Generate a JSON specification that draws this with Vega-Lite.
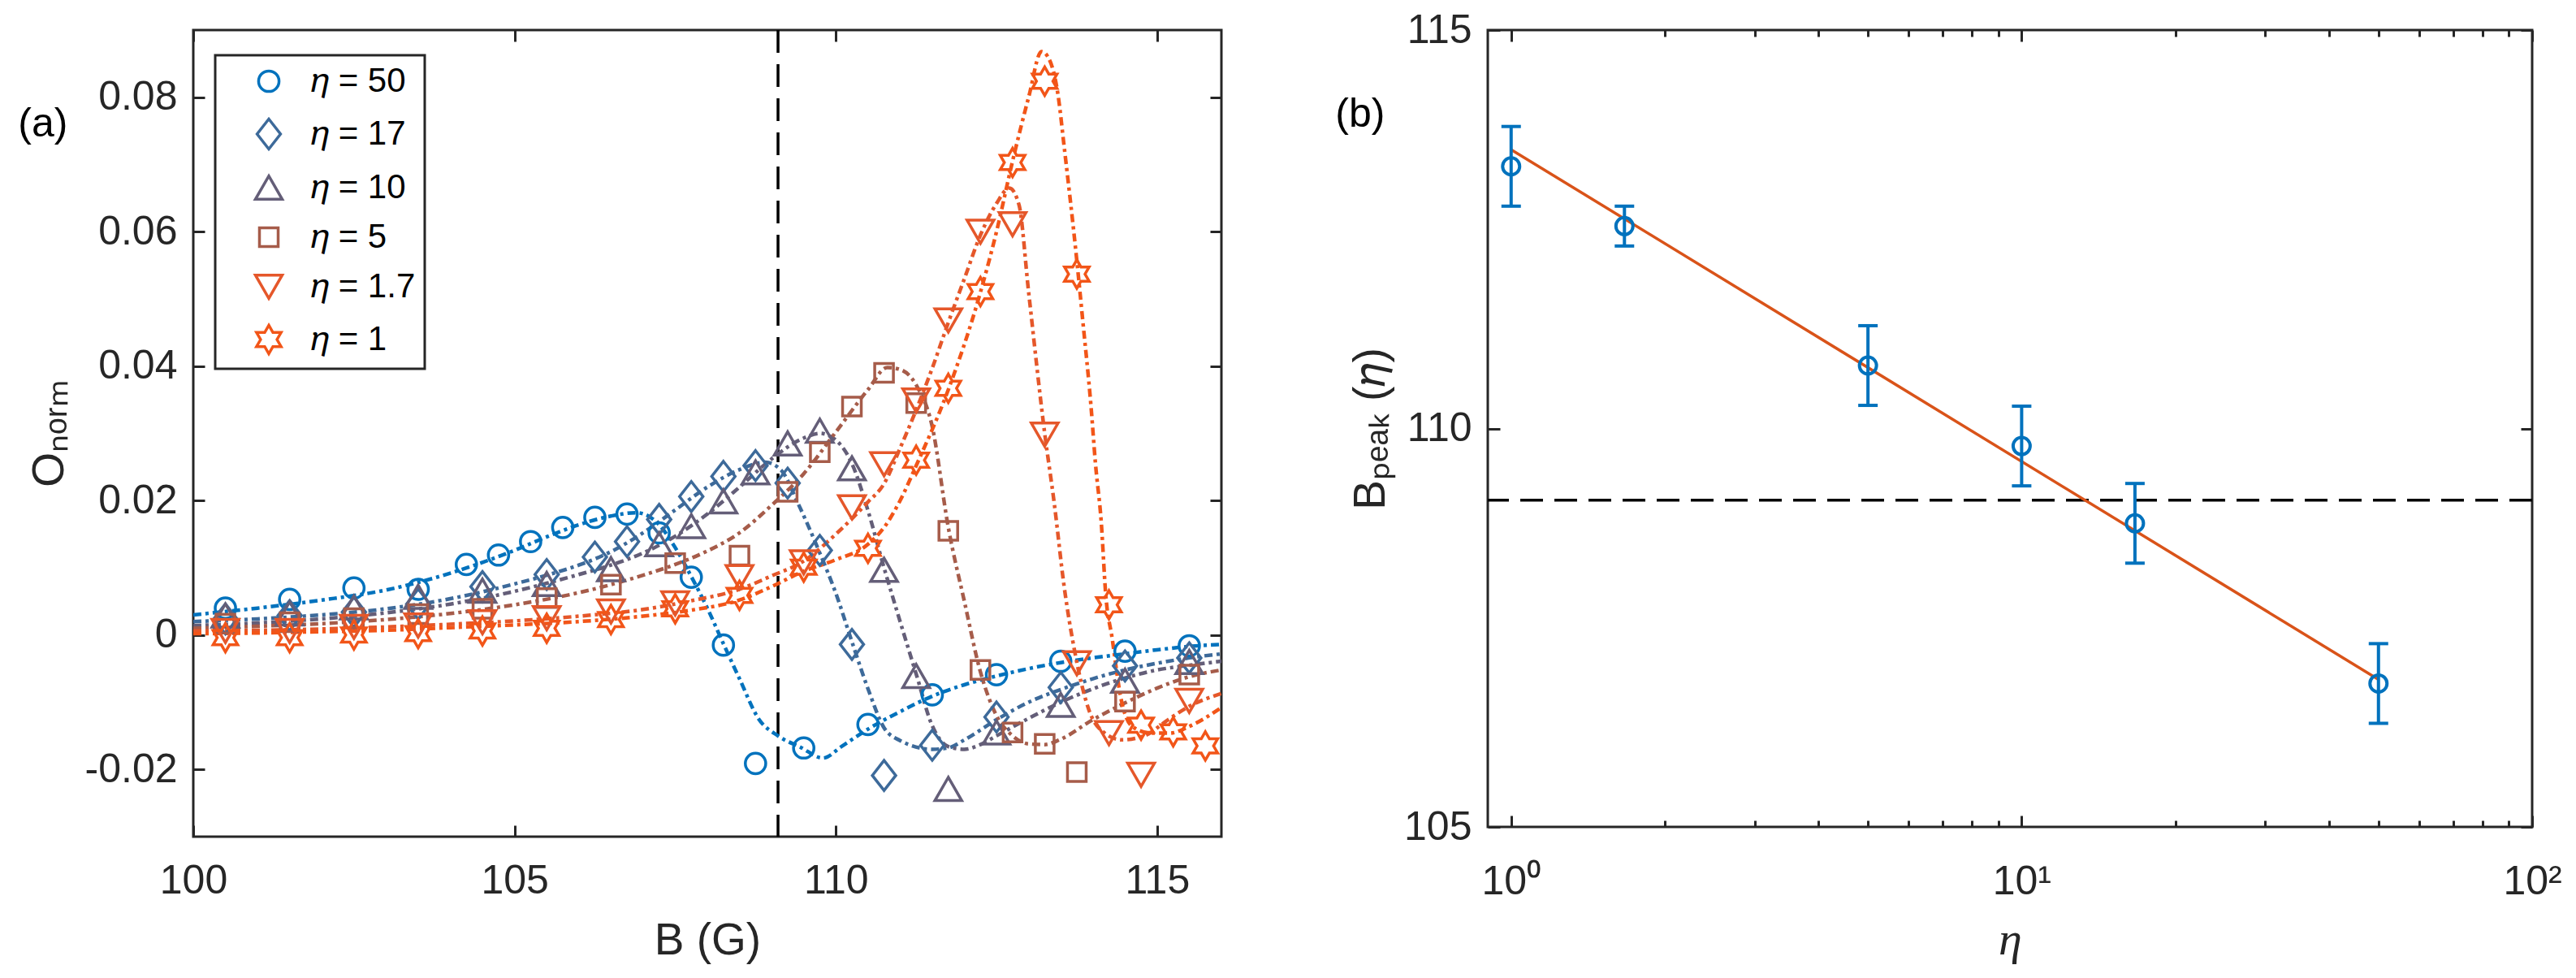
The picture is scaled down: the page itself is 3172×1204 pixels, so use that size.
{
  "$schema": "https://vega.github.io/schema/vega-lite/v6.json",
  "autosize": {"type": "none"},
  "padding": {"left": 238, "top": 37, "right": 2934, "bottom": 1167},
  "background": "white",
  "spacing": 328,
  "bounds": "flush",
  "resolve": {"scale": {"color": "independent", "shape": "independent", "stroke": "independent"}, "legend": {"color": "independent", "shape": "independent", "stroke": "independent"}},
  "config": {
    "font": "Liberation Sans",
    "view": {"stroke": "#262626", "strokeWidth": 3},
    "axis": {"domain": false, "grid": false, "tickColor": "#262626", "tickWidth": 3, "labelColor": "#262626", "labelFont": "Liberation Sans", "labelFontSize": 50, "labelFlush": false, "titleFont": "Liberation Sans", "titleFontSize": 55, "titleFontWeight": "normal", "titleColor": "#262626"},
    "legend": {"strokeWidth": 3, "symbolOffset": 34, "labelOffset": 31}
  },
  "datasets": {
    "m": [
      {"s": "η = 50", "B": 100.5, "O": 0.0040}, {"s": "η = 50", "B": 101.5, "O": 0.0053}, {"s": "η = 50", "B": 102.5, "O": 0.0070}, {"s": "η = 50", "B": 103.5, "O": 0.0068}, {"s": "η = 50", "B": 104.25, "O": 0.0105}, {"s": "η = 50", "B": 104.75, "O": 0.0119}, {"s": "η = 50", "B": 105.25, "O": 0.0139}, {"s": "η = 50", "B": 105.75, "O": 0.0160}, {"s": "η = 50", "B": 106.25, "O": 0.0175}, {"s": "η = 50", "B": 106.75, "O": 0.0180}, {"s": "η = 50", "B": 107.25, "O": 0.0152}, {"s": "η = 50", "B": 107.75, "O": 0.0086}, {"s": "η = 50", "B": 108.25, "O": -0.0015}, {"s": "η = 50", "B": 108.75, "O": -0.0191}, {"s": "η = 50", "B": 109.5, "O": -0.0168}, {"s": "η = 50", "B": 110.5, "O": -0.0133}, {"s": "η = 50", "B": 111.5, "O": -0.0089}, {"s": "η = 50", "B": 112.5, "O": -0.0059}, {"s": "η = 50", "B": 113.5, "O": -0.0039}, {"s": "η = 50", "B": 114.5, "O": -0.0024}, {"s": "η = 50", "B": 115.5, "O": -0.0016},
      {"s": "η = 17", "B": 100.5, "O": 0.0024}, {"s": "η = 17", "B": 101.5, "O": 0.0029}, {"s": "η = 17", "B": 102.5, "O": 0.0034}, {"s": "η = 17", "B": 103.5, "O": 0.0046}, {"s": "η = 17", "B": 104.5, "O": 0.0072}, {"s": "η = 17", "B": 105.5, "O": 0.0090}, {"s": "η = 17", "B": 106.25, "O": 0.0116}, {"s": "η = 17", "B": 106.75, "O": 0.0139}, {"s": "η = 17", "B": 107.25, "O": 0.0172}, {"s": "η = 17", "B": 107.75, "O": 0.0206}, {"s": "η = 17", "B": 108.25, "O": 0.0236}, {"s": "η = 17", "B": 108.75, "O": 0.0252}, {"s": "η = 17", "B": 109.25, "O": 0.0226}, {"s": "η = 17", "B": 109.75, "O": 0.0126}, {"s": "η = 17", "B": 110.25, "O": -0.0014}, {"s": "η = 17", "B": 110.75, "O": -0.0209}, {"s": "η = 17", "B": 111.5, "O": -0.0164}, {"s": "η = 17", "B": 112.5, "O": -0.0122}, {"s": "η = 17", "B": 113.5, "O": -0.0078}, {"s": "η = 17", "B": 114.5, "O": -0.0046}, {"s": "η = 17", "B": 115.5, "O": -0.0034},
      {"s": "η = 10", "B": 100.5, "O": 0.0029}, {"s": "η = 10", "B": 101.5, "O": 0.0032}, {"s": "η = 10", "B": 102.5, "O": 0.0041}, {"s": "η = 10", "B": 103.5, "O": 0.0057}, {"s": "η = 10", "B": 104.5, "O": 0.0066}, {"s": "η = 10", "B": 105.5, "O": 0.0076}, {"s": "η = 10", "B": 106.5, "O": 0.0098}, {"s": "η = 10", "B": 107.25, "O": 0.0135}, {"s": "η = 10", "B": 107.75, "O": 0.0162}, {"s": "η = 10", "B": 108.25, "O": 0.0199}, {"s": "η = 10", "B": 108.75, "O": 0.0242}, {"s": "η = 10", "B": 109.25, "O": 0.0285}, {"s": "η = 10", "B": 109.75, "O": 0.0304}, {"s": "η = 10", "B": 110.25, "O": 0.0248}, {"s": "η = 10", "B": 110.75, "O": 0.0097}, {"s": "η = 10", "B": 111.25, "O": -0.0061}, {"s": "η = 10", "B": 111.75, "O": -0.0229}, {"s": "η = 10", "B": 112.5, "O": -0.0145}, {"s": "η = 10", "B": 113.5, "O": -0.0104}, {"s": "η = 10", "B": 114.5, "O": -0.0068}, {"s": "η = 10", "B": 115.5, "O": -0.0040},
      {"s": "η = 5", "B": 100.5, "O": 0.0017}, {"s": "η = 5", "B": 101.5, "O": 0.0019}, {"s": "η = 5", "B": 102.5, "O": 0.0025}, {"s": "η = 5", "B": 103.5, "O": 0.0031}, {"s": "η = 5", "B": 104.5, "O": 0.0039}, {"s": "η = 5", "B": 105.5, "O": 0.0055}, {"s": "η = 5", "B": 106.5, "O": 0.0075}, {"s": "η = 5", "B": 107.5, "O": 0.0107}, {"s": "η = 5", "B": 108.5, "O": 0.0118}, {"s": "η = 5", "B": 109.25, "O": 0.0213}, {"s": "η = 5", "B": 109.75, "O": 0.0272}, {"s": "η = 5", "B": 110.25, "O": 0.0340}, {"s": "η = 5", "B": 110.75, "O": 0.0390}, {"s": "η = 5", "B": 111.25, "O": 0.0345}, {"s": "η = 5", "B": 111.75, "O": 0.0155}, {"s": "η = 5", "B": 112.25, "O": -0.0052}, {"s": "η = 5", "B": 112.75, "O": -0.0145}, {"s": "η = 5", "B": 113.25, "O": -0.0162}, {"s": "η = 5", "B": 113.75, "O": -0.0204}, {"s": "η = 5", "B": 114.5, "O": -0.0099}, {"s": "η = 5", "B": 115.5, "O": -0.0059},
      {"s": "η = 1.7", "B": 100.5, "O": 0.0006}, {"s": "η = 1.7", "B": 101.5, "O": 0.0006}, {"s": "η = 1.7", "B": 102.5, "O": 0.0012}, {"s": "η = 1.7", "B": 103.5, "O": 0.0014}, {"s": "η = 1.7", "B": 104.5, "O": 0.0019}, {"s": "η = 1.7", "B": 105.5, "O": 0.0025}, {"s": "η = 1.7", "B": 106.5, "O": 0.0035}, {"s": "η = 1.7", "B": 107.5, "O": 0.0047}, {"s": "η = 1.7", "B": 108.5, "O": 0.0086}, {"s": "η = 1.7", "B": 109.5, "O": 0.0108}, {"s": "η = 1.7", "B": 110.25, "O": 0.0190}, {"s": "η = 1.7", "B": 110.75, "O": 0.0254}, {"s": "η = 1.7", "B": 111.25, "O": 0.0349}, {"s": "η = 1.7", "B": 111.75, "O": 0.0468}, {"s": "η = 1.7", "B": 112.25, "O": 0.0600}, {"s": "η = 1.7", "B": 112.75, "O": 0.0611}, {"s": "η = 1.7", "B": 113.25, "O": 0.0298}, {"s": "η = 1.7", "B": 113.75, "O": -0.0042}, {"s": "η = 1.7", "B": 114.25, "O": -0.0146}, {"s": "η = 1.7", "B": 114.75, "O": -0.0208}, {"s": "η = 1.7", "B": 115.5, "O": -0.0098},
      {"s": "η = 1", "B": 100.5, "O": -0.0004}, {"s": "η = 1", "B": 101.5, "O": -0.0004}, {"s": "η = 1", "B": 102.5, "O": 0.0000}, {"s": "η = 1", "B": 103.5, "O": 0.0002}, {"s": "η = 1", "B": 104.5, "O": 0.0006}, {"s": "η = 1", "B": 105.5, "O": 0.0010}, {"s": "η = 1", "B": 106.5, "O": 0.0023}, {"s": "η = 1", "B": 107.5, "O": 0.0039}, {"s": "η = 1", "B": 108.5, "O": 0.0059}, {"s": "η = 1", "B": 109.5, "O": 0.0101}, {"s": "η = 1", "B": 110.5, "O": 0.0129}, {"s": "η = 1", "B": 111.25, "O": 0.0260}, {"s": "η = 1", "B": 111.75, "O": 0.0367}, {"s": "η = 1", "B": 112.25, "O": 0.0511}, {"s": "η = 1", "B": 112.75, "O": 0.0703}, {"s": "η = 1", "B": 113.25, "O": 0.0824}, {"s": "η = 1", "B": 113.75, "O": 0.0537}, {"s": "η = 1", "B": 114.25, "O": 0.0045}, {"s": "η = 1", "B": 114.75, "O": -0.0134}, {"s": "η = 1", "B": 115.25, "O": -0.0144}, {"s": "η = 1", "B": 115.75, "O": -0.0165}
    ],
    "c": [
      {"s": "η = 50", "B": 100, "O": 0.0030}, {"s": "η = 50", "B": 101, "O": 0.0040}, {"s": "η = 50", "B": 102, "O": 0.0052}, {"s": "η = 50", "B": 103, "O": 0.0067}, {"s": "η = 50", "B": 104, "O": 0.0092}, {"s": "η = 50", "B": 104.5, "O": 0.0108}, {"s": "η = 50", "B": 105, "O": 0.0126}, {"s": "η = 50", "B": 105.5, "O": 0.0146}, {"s": "η = 50", "B": 106, "O": 0.0164}, {"s": "η = 50", "B": 106.5, "O": 0.0177}, {"s": "η = 50", "B": 106.9, "O": 0.0182}, {"s": "η = 50", "B": 107.25, "O": 0.0164}, {"s": "η = 50", "B": 107.5, "O": 0.0130}, {"s": "η = 50", "B": 107.75, "O": 0.0087}, {"s": "η = 50", "B": 108, "O": 0.0040}, {"s": "η = 50", "B": 108.25, "O": -0.0013}, {"s": "η = 50", "B": 108.5, "O": -0.0065}, {"s": "η = 50", "B": 108.8, "O": -0.0125}, {"s": "η = 50", "B": 109.1, "O": -0.0150}, {"s": "η = 50", "B": 109.45, "O": -0.0167}, {"s": "η = 50", "B": 109.8, "O": -0.0183}, {"s": "η = 50", "B": 110.1, "O": -0.0165}, {"s": "η = 50", "B": 110.5, "O": -0.0140}, {"s": "η = 50", "B": 111, "O": -0.0114}, {"s": "η = 50", "B": 111.5, "O": -0.0091}, {"s": "η = 50", "B": 112, "O": -0.0074}, {"s": "η = 50", "B": 112.5, "O": -0.0061}, {"s": "η = 50", "B": 113, "O": -0.0050}, {"s": "η = 50", "B": 113.5, "O": -0.0041}, {"s": "η = 50", "B": 114, "O": -0.0034}, {"s": "η = 50", "B": 114.5, "O": -0.0028}, {"s": "η = 50", "B": 115, "O": -0.0022}, {"s": "η = 50", "B": 115.5, "O": -0.0017}, {"s": "η = 50", "B": 116, "O": -0.0014},
      {"s": "η = 17", "B": 100, "O": 0.0020}, {"s": "η = 17", "B": 101, "O": 0.0024}, {"s": "η = 17", "B": 102, "O": 0.0030}, {"s": "η = 17", "B": 103, "O": 0.0039}, {"s": "η = 17", "B": 104, "O": 0.0054}, {"s": "η = 17", "B": 105, "O": 0.0076}, {"s": "η = 17", "B": 105.5, "O": 0.0089}, {"s": "η = 17", "B": 106, "O": 0.0104}, {"s": "η = 17", "B": 106.5, "O": 0.0124}, {"s": "η = 17", "B": 107, "O": 0.0152}, {"s": "η = 17", "B": 107.5, "O": 0.0186}, {"s": "η = 17", "B": 108, "O": 0.0220}, {"s": "η = 17", "B": 108.5, "O": 0.0246}, {"s": "η = 17", "B": 108.9, "O": 0.0257}, {"s": "η = 17", "B": 109.15, "O": 0.0245}, {"s": "η = 17", "B": 109.4, "O": 0.0198}, {"s": "η = 17", "B": 109.75, "O": 0.0122}, {"s": "η = 17", "B": 110, "O": 0.0062}, {"s": "η = 17", "B": 110.25, "O": -0.0010}, {"s": "η = 17", "B": 110.5, "O": -0.0080}, {"s": "η = 17", "B": 110.75, "O": -0.0138}, {"s": "η = 17", "B": 111, "O": -0.0157}, {"s": "η = 17", "B": 111.5, "O": -0.0170}, {"s": "η = 17", "B": 111.75, "O": -0.0168}, {"s": "η = 17", "B": 112, "O": -0.0156}, {"s": "η = 17", "B": 112.5, "O": -0.0126}, {"s": "η = 17", "B": 113, "O": -0.0100}, {"s": "η = 17", "B": 113.5, "O": -0.0081}, {"s": "η = 17", "B": 114, "O": -0.0065}, {"s": "η = 17", "B": 114.5, "O": -0.0052}, {"s": "η = 17", "B": 115, "O": -0.0042}, {"s": "η = 17", "B": 115.5, "O": -0.0034}, {"s": "η = 17", "B": 116, "O": -0.0028},
      {"s": "η = 10", "B": 100, "O": 0.0014}, {"s": "η = 10", "B": 101, "O": 0.0018}, {"s": "η = 10", "B": 102, "O": 0.0024}, {"s": "η = 10", "B": 103, "O": 0.0033}, {"s": "η = 10", "B": 104, "O": 0.0046}, {"s": "η = 10", "B": 105, "O": 0.0065}, {"s": "η = 10", "B": 105.5, "O": 0.0077}, {"s": "η = 10", "B": 106, "O": 0.0090}, {"s": "η = 10", "B": 106.5, "O": 0.0104}, {"s": "η = 10", "B": 107, "O": 0.0122}, {"s": "η = 10", "B": 107.5, "O": 0.0147}, {"s": "η = 10", "B": 108, "O": 0.0180}, {"s": "η = 10", "B": 108.5, "O": 0.0220}, {"s": "η = 10", "B": 109, "O": 0.0262}, {"s": "η = 10", "B": 109.5, "O": 0.0293}, {"s": "η = 10", "B": 109.75, "O": 0.0300}, {"s": "η = 10", "B": 110, "O": 0.0290}, {"s": "η = 10", "B": 110.25, "O": 0.0255}, {"s": "η = 10", "B": 110.5, "O": 0.0185}, {"s": "η = 10", "B": 110.75, "O": 0.0100}, {"s": "η = 10", "B": 111, "O": 0.0020}, {"s": "η = 10", "B": 111.25, "O": -0.0058}, {"s": "η = 10", "B": 111.5, "O": -0.0135}, {"s": "η = 10", "B": 111.75, "O": -0.0166}, {"s": "η = 10", "B": 112, "O": -0.0170}, {"s": "η = 10", "B": 112.25, "O": -0.0163}, {"s": "η = 10", "B": 112.5, "O": -0.0150}, {"s": "η = 10", "B": 113, "O": -0.0124}, {"s": "η = 10", "B": 113.5, "O": -0.0100}, {"s": "η = 10", "B": 114, "O": -0.0080}, {"s": "η = 10", "B": 114.5, "O": -0.0064}, {"s": "η = 10", "B": 115, "O": -0.0052}, {"s": "η = 10", "B": 115.5, "O": -0.0045}, {"s": "η = 10", "B": 116, "O": -0.0039},
      {"s": "η = 5", "B": 100, "O": 0.0010}, {"s": "η = 5", "B": 101, "O": 0.0013}, {"s": "η = 5", "B": 102, "O": 0.0017}, {"s": "η = 5", "B": 103, "O": 0.0023}, {"s": "η = 5", "B": 104, "O": 0.0032}, {"s": "η = 5", "B": 105, "O": 0.0045}, {"s": "η = 5", "B": 106, "O": 0.0063}, {"s": "η = 5", "B": 106.5, "O": 0.0075}, {"s": "η = 5", "B": 107, "O": 0.0089}, {"s": "η = 5", "B": 107.5, "O": 0.0105}, {"s": "η = 5", "B": 108, "O": 0.0125}, {"s": "η = 5", "B": 108.5, "O": 0.0152}, {"s": "η = 5", "B": 109, "O": 0.0193}, {"s": "η = 5", "B": 109.5, "O": 0.0240}, {"s": "η = 5", "B": 110, "O": 0.0302}, {"s": "η = 5", "B": 110.5, "O": 0.0365}, {"s": "η = 5", "B": 110.8, "O": 0.0398}, {"s": "η = 5", "B": 111, "O": 0.0395}, {"s": "η = 5", "B": 111.25, "O": 0.0372}, {"s": "η = 5", "B": 111.5, "O": 0.0310}, {"s": "η = 5", "B": 111.75, "O": 0.0160}, {"s": "η = 5", "B": 112, "O": 0.0050}, {"s": "η = 5", "B": 112.25, "O": -0.0055}, {"s": "η = 5", "B": 112.5, "O": -0.0120}, {"s": "η = 5", "B": 112.75, "O": -0.0150}, {"s": "η = 5", "B": 113, "O": -0.0162}, {"s": "η = 5", "B": 113.25, "O": -0.0163}, {"s": "η = 5", "B": 113.5, "O": -0.0155}, {"s": "η = 5", "B": 114, "O": -0.0126}, {"s": "η = 5", "B": 114.5, "O": -0.0101}, {"s": "η = 5", "B": 115, "O": -0.0079}, {"s": "η = 5", "B": 115.5, "O": -0.0062}, {"s": "η = 5", "B": 116, "O": -0.0052},
      {"s": "η = 1.7", "B": 100, "O": 0.0006}, {"s": "η = 1.7", "B": 101, "O": 0.0007}, {"s": "η = 1.7", "B": 102, "O": 0.0009}, {"s": "η = 1.7", "B": 103, "O": 0.0012}, {"s": "η = 1.7", "B": 104, "O": 0.0016}, {"s": "η = 1.7", "B": 105, "O": 0.0021}, {"s": "η = 1.7", "B": 106, "O": 0.0028}, {"s": "η = 1.7", "B": 107, "O": 0.0038}, {"s": "η = 1.7", "B": 107.75, "O": 0.0051}, {"s": "η = 1.7", "B": 108.5, "O": 0.0068}, {"s": "η = 1.7", "B": 109, "O": 0.0088}, {"s": "η = 1.7", "B": 109.5, "O": 0.0110}, {"s": "η = 1.7", "B": 110, "O": 0.0150}, {"s": "η = 1.7", "B": 110.25, "O": 0.0173}, {"s": "η = 1.7", "B": 110.5, "O": 0.0198}, {"s": "η = 1.7", "B": 110.75, "O": 0.0225}, {"s": "η = 1.7", "B": 111, "O": 0.0278}, {"s": "η = 1.7", "B": 111.25, "O": 0.0335}, {"s": "η = 1.7", "B": 111.5, "O": 0.0397}, {"s": "η = 1.7", "B": 111.75, "O": 0.0465}, {"s": "η = 1.7", "B": 112, "O": 0.0530}, {"s": "η = 1.7", "B": 112.25, "O": 0.0595}, {"s": "η = 1.7", "B": 112.5, "O": 0.0642}, {"s": "η = 1.7", "B": 112.7, "O": 0.0665}, {"s": "η = 1.7", "B": 112.85, "O": 0.0640}, {"s": "η = 1.7", "B": 113, "O": 0.0510}, {"s": "η = 1.7", "B": 113.25, "O": 0.0300}, {"s": "η = 1.7", "B": 113.4, "O": 0.0195}, {"s": "η = 1.7", "B": 113.55, "O": 0.0074}, {"s": "η = 1.7", "B": 113.72, "O": -0.0026}, {"s": "η = 1.7", "B": 113.94, "O": -0.0112}, {"s": "η = 1.7", "B": 114.2, "O": -0.0147}, {"s": "η = 1.7", "B": 114.45, "O": -0.0156}, {"s": "η = 1.7", "B": 114.8, "O": -0.0150}, {"s": "η = 1.7", "B": 115.17, "O": -0.0126}, {"s": "η = 1.7", "B": 115.5, "O": -0.0106}, {"s": "η = 1.7", "B": 116, "O": -0.0087},
      {"s": "η = 1", "B": 100, "O": 0.0002}, {"s": "η = 1", "B": 101, "O": 0.0003}, {"s": "η = 1", "B": 102, "O": 0.0005}, {"s": "η = 1", "B": 103, "O": 0.0007}, {"s": "η = 1", "B": 104, "O": 0.0011}, {"s": "η = 1", "B": 105, "O": 0.0015}, {"s": "η = 1", "B": 106, "O": 0.0020}, {"s": "η = 1", "B": 107, "O": 0.0028}, {"s": "η = 1", "B": 107.75, "O": 0.0037}, {"s": "η = 1", "B": 108.5, "O": 0.0052}, {"s": "η = 1", "B": 109, "O": 0.0072}, {"s": "η = 1", "B": 109.5, "O": 0.0095}, {"s": "η = 1", "B": 110, "O": 0.0112}, {"s": "η = 1", "B": 110.5, "O": 0.0135}, {"s": "η = 1", "B": 110.75, "O": 0.0160}, {"s": "η = 1", "B": 111, "O": 0.0200}, {"s": "η = 1", "B": 111.25, "O": 0.0252}, {"s": "η = 1", "B": 111.75, "O": 0.0365}, {"s": "η = 1", "B": 112.25, "O": 0.0510}, {"s": "η = 1", "B": 112.5, "O": 0.0600}, {"s": "η = 1", "B": 112.75, "O": 0.0705}, {"s": "η = 1", "B": 113, "O": 0.0800}, {"s": "η = 1", "B": 113.2, "O": 0.0868}, {"s": "η = 1", "B": 113.3, "O": 0.0860}, {"s": "η = 1", "B": 113.46, "O": 0.0802}, {"s": "η = 1", "B": 113.55, "O": 0.0729}, {"s": "η = 1", "B": 113.75, "O": 0.0557}, {"s": "η = 1", "B": 113.84, "O": 0.0470}, {"s": "η = 1", "B": 113.97, "O": 0.0341}, {"s": "η = 1", "B": 114.04, "O": 0.0255}, {"s": "η = 1", "B": 114.13, "O": 0.0168}, {"s": "η = 1", "B": 114.2, "O": 0.0060}, {"s": "η = 1", "B": 114.3, "O": -0.0005}, {"s": "η = 1", "B": 114.43, "O": -0.0091}, {"s": "η = 1", "B": 114.6, "O": -0.0135}, {"s": "η = 1", "B": 114.9, "O": -0.0146}, {"s": "η = 1", "B": 115.2, "O": -0.0146}, {"s": "η = 1", "B": 115.5, "O": -0.0136}, {"s": "η = 1", "B": 116, "O": -0.0108}
    ],
    "r": [
      {"eta": 1, "B": 113.29, "lo": 112.79, "hi": 113.79},
      {"eta": 1.667, "B": 112.54, "lo": 112.29, "hi": 112.79},
      {"eta": 5, "B": 110.79, "lo": 110.29, "hi": 111.29},
      {"eta": 10, "B": 109.78, "lo": 109.28, "hi": 110.28},
      {"eta": 16.67, "B": 108.81, "lo": 108.31, "hi": 109.31},
      {"eta": 50, "B": 106.8, "lo": 106.3, "hi": 107.3}
    ],
    "f": [
      {"eta": 1, "B": 113.5},
      {"eta": 50, "B": 106.85}
    ]
  },
  "hconcat": [
    {
      "width": 1266,
      "height": 993,
      "resolve": {"axis": {"x": "independent", "y": "independent"}},
      "layer": [
        {
          "data": {"values": [{}]},
          "mark": {"type": "rule", "strokeDash": [28, 14], "strokeWidth": 3.5, "color": "#000000"},
          "encoding": {
            "x": {"datum": 109.1, "type": "quantitative", "scale": {"domain": [100, 116], "nice": false, "zero": false}, "axis": null}
          }
        },
        {
          "data": {"name": "c"},
          "mark": {"type": "line", "strokeWidth": 4.5, "strokeDash": [10, 5, 4, 5], "interpolate": "monotone", "clip": true},
          "encoding": {
            "x": {"field": "B", "type": "quantitative", "scale": {"domain": [100, 116], "nice": false, "zero": false}, "axis": {"orient": "top", "values": [100, 105, 110, 115], "tickSize": -14, "labels": false, "title": null}},
            "y": {"field": "O", "type": "quantitative", "scale": {"domain": [-0.03, 0.09], "nice": false, "zero": false}, "axis": {"orient": "right", "values": [-0.02, 0, 0.02, 0.04, 0.06, 0.08], "tickSize": -14, "labels": false, "title": null}},
            "stroke": {"field": "s", "type": "nominal", "scale": {"domain": ["η = 1", "η = 1.7", "η = 5", "η = 10", "η = 17", "η = 50"], "range": ["#F25518", "#E5572A", "#A65C4A", "#645E78", "#3D6A9A", "#0072BD"]}, "legend": null}
          }
        },
        {
          "data": {"name": "m"},
          "mark": {"type": "point", "filled": false, "strokeWidth": 3.5, "opacity": 1, "size": 1369},
          "encoding": {
            "x": {"field": "B", "type": "quantitative", "scale": {"domain": [100, 116], "nice": false, "zero": false}, "axis": {"orient": "bottom", "values": [100, 105, 110, 115], "tickSize": -14, "labelPadding": 43, "title": "B (G)", "titlePadding": 22}},
            "y": {"field": "O", "type": "quantitative", "scale": {"domain": [-0.03, 0.09], "nice": false, "zero": false}, "axis": {"orient": "left", "values": [-0.02, 0, 0.02, 0.04, 0.06, 0.08], "tickSize": -14, "labelPadding": 34, "labelExpr": "datum.value == 0 ? '0' : (datum.value < 0 ? '-' + format(-datum.value, '.2f') : format(datum.value, '.2f'))", "title": "Oₙₒᵣₘ", "titlePadding": 15}},
            "color": {"field": "s", "type": "nominal", "scale": {"domain": ["η = 50", "η = 17", "η = 10", "η = 5", "η = 1.7", "η = 1"], "range": ["#0072BD", "#3D6A9A", "#645E78", "#A65C4A", "#E5572A", "#F25518"]},
              "legend": {"orient": "none", "legendX": 27, "legendY": 31, "title": null, "labelFont": "Liberation Sans", "labelFontSize": 42, "labelColor": "#000000", "labelLimit": 400, "padding": 11, "rowPadding": 18, "strokeColor": "#262626", "fillColor": "#ffffff", "symbolSize": 1369, "symbolStrokeWidth": 3.5, "labelExpr": "replace(datum.label, 'η', '𝜂')"}},
            "shape": {"field": "s", "type": "nominal", "scale": {"domain": ["η = 50", "η = 17", "η = 10", "η = 5", "η = 1.7", "η = 1"], "range": [
              "M0.68,0A0.68,0.68,0,1,1,-0.68,0A0.68,0.68,0,1,1,0.68,0Z",
              "M0,-1L0.78,0L0,1L-0.78,0Z",
              "M0,-0.773L0.892,0.773L-0.892,0.773Z",
              "M-0.622,-0.622L0.622,-0.622L0.622,0.622L-0.622,0.622Z",
              "M0,0.773L0.892,-0.773L-0.892,-0.773Z",
              "M0,-0.946L0.273,-0.473L0.819,-0.473L0.546,0L0.819,0.473L0.273,0.473L0,0.946L-0.273,0.473L-0.819,0.473L-0.546,0L-0.819,-0.473L-0.273,-0.473Z"]},
              "legend": {"orient": "none", "legendX": 27, "legendY": 31, "title": null, "labelFont": "Liberation Sans", "labelFontSize": 42, "labelColor": "#000000", "labelLimit": 400, "padding": 11, "rowPadding": 18, "strokeColor": "#262626", "fillColor": "#ffffff", "symbolSize": 1369, "symbolStrokeWidth": 3.5, "labelExpr": "replace(datum.label, 'η', '𝜂')"}}
          }
        },
        {
          "data": {"values": [{}]},
          "mark": {"type": "text", "fontSize": 50, "font": "Liberation Sans", "color": "#000000", "align": "center", "baseline": "middle"},
          "encoding": {
            "x": {"datum": 97.66, "type": "quantitative", "axis": null},
            "y": {"datum": 0.076, "type": "quantitative", "axis": null},
            "text": {"value": "(a)"}
          }
        }
      ]
    },
    {
      "width": 1286,
      "height": 981,
      "resolve": {"axis": {"x": "independent", "y": "independent"}},
      "layer": [
        {
          "data": {"values": [{}]},
          "mark": {"type": "rule", "strokeDash": [28, 14], "strokeWidth": 3.5, "color": "#000000"},
          "encoding": {
            "y": {"datum": 109.1, "type": "quantitative", "scale": {"domain": [105, 115], "nice": false, "zero": false}, "axis": null}
          }
        },
        {
          "data": {"name": "f"},
          "mark": {"type": "line", "color": "#D95319", "strokeWidth": 3.5},
          "encoding": {
            "x": {"field": "eta", "type": "quantitative", "scale": {"type": "log", "domain": [0.9, 100], "nice": false}, "axis": {"orient": "bottom", "values": [1, 10, 100], "tickSize": -14, "labelPadding": 56, "labelExpr": "datum.value == 1 ? '10⁰' : (datum.value == 10 ? '10¹' : '10²')", "title": "η", "titleFont": "Liberation Serif", "titleFontStyle": "italic", "titleFontSize": 58, "titlePadding": 18}},
            "y": {"field": "B", "type": "quantitative", "scale": {"domain": [105, 115], "nice": false, "zero": false}, "axis": {"orient": "left", "values": [105, 110, 115], "tickSize": -15, "labelPadding": 35, "title": "Bₚₑₐₖ (𝜂)", "titlePadding": 12}}
          }
        },
        {
          "data": {"name": "r"},
          "mark": {"type": "rule", "color": "#0072BD", "strokeWidth": 4},
          "encoding": {
            "x": {"field": "eta", "type": "quantitative", "scale": {"type": "log", "domain": [0.9, 100], "nice": false}, "axis": {"orient": "top", "values": [1, 10, 100], "tickSize": -14, "labels": false, "title": null}},
            "y": {"field": "lo", "type": "quantitative", "scale": {"domain": [105, 115], "nice": false, "zero": false}, "axis": {"orient": "right", "values": [105, 110, 115], "tickSize": -14, "labels": false, "title": null}},
            "y2": {"field": "hi"}
          }
        },
        {
          "data": {"name": "r"},
          "mark": {"type": "tick", "orient": "horizontal", "color": "#0072BD", "size": 24, "thickness": 4, "opacity": 1},
          "encoding": {
            "x": {"field": "eta", "type": "quantitative", "scale": {"type": "log", "domain": [0.9, 100], "nice": false}, "axis": {"orient": "bottom", "values": [2, 3, 4, 5, 6, 7, 8, 9, 20, 30, 40, 50, 60, 70, 80, 90], "tickSize": -8, "labels": false, "title": null}},
            "y": {"field": "hi", "type": "quantitative", "scale": {"domain": [105, 115], "nice": false, "zero": false}, "axis": null}
          }
        },
        {
          "data": {"name": "r"},
          "mark": {"type": "tick", "orient": "horizontal", "color": "#0072BD", "size": 24, "thickness": 4, "opacity": 1},
          "encoding": {
            "x": {"field": "eta", "type": "quantitative", "scale": {"type": "log", "domain": [0.9, 100], "nice": false}, "axis": {"orient": "top", "values": [2, 3, 4, 5, 6, 7, 8, 9, 20, 30, 40, 50, 60, 70, 80, 90], "tickSize": -8, "labels": false, "title": null}},
            "y": {"field": "lo", "type": "quantitative", "scale": {"domain": [105, 115], "nice": false, "zero": false}, "axis": null}
          }
        },
        {
          "data": {"name": "r"},
          "mark": {"type": "point", "filled": false, "color": "#0072BD", "size": 441, "strokeWidth": 4, "opacity": 1},
          "encoding": {
            "x": {"field": "eta", "type": "quantitative", "scale": {"type": "log", "domain": [0.9, 100], "nice": false}, "axis": null},
            "y": {"field": "B", "type": "quantitative", "scale": {"domain": [105, 115], "nice": false, "zero": false}, "axis": null}
          }
        },
        {
          "data": {"values": [{}]},
          "mark": {"type": "text", "fontSize": 50, "font": "Liberation Sans", "color": "#000000", "align": "center", "baseline": "middle"},
          "encoding": {
            "x": {"datum": 0.506, "type": "quantitative", "axis": null},
            "y": {"datum": 113.94, "type": "quantitative", "axis": null},
            "text": {"value": "(b)"}
          }
        }
      ]
    }
  ]
}
